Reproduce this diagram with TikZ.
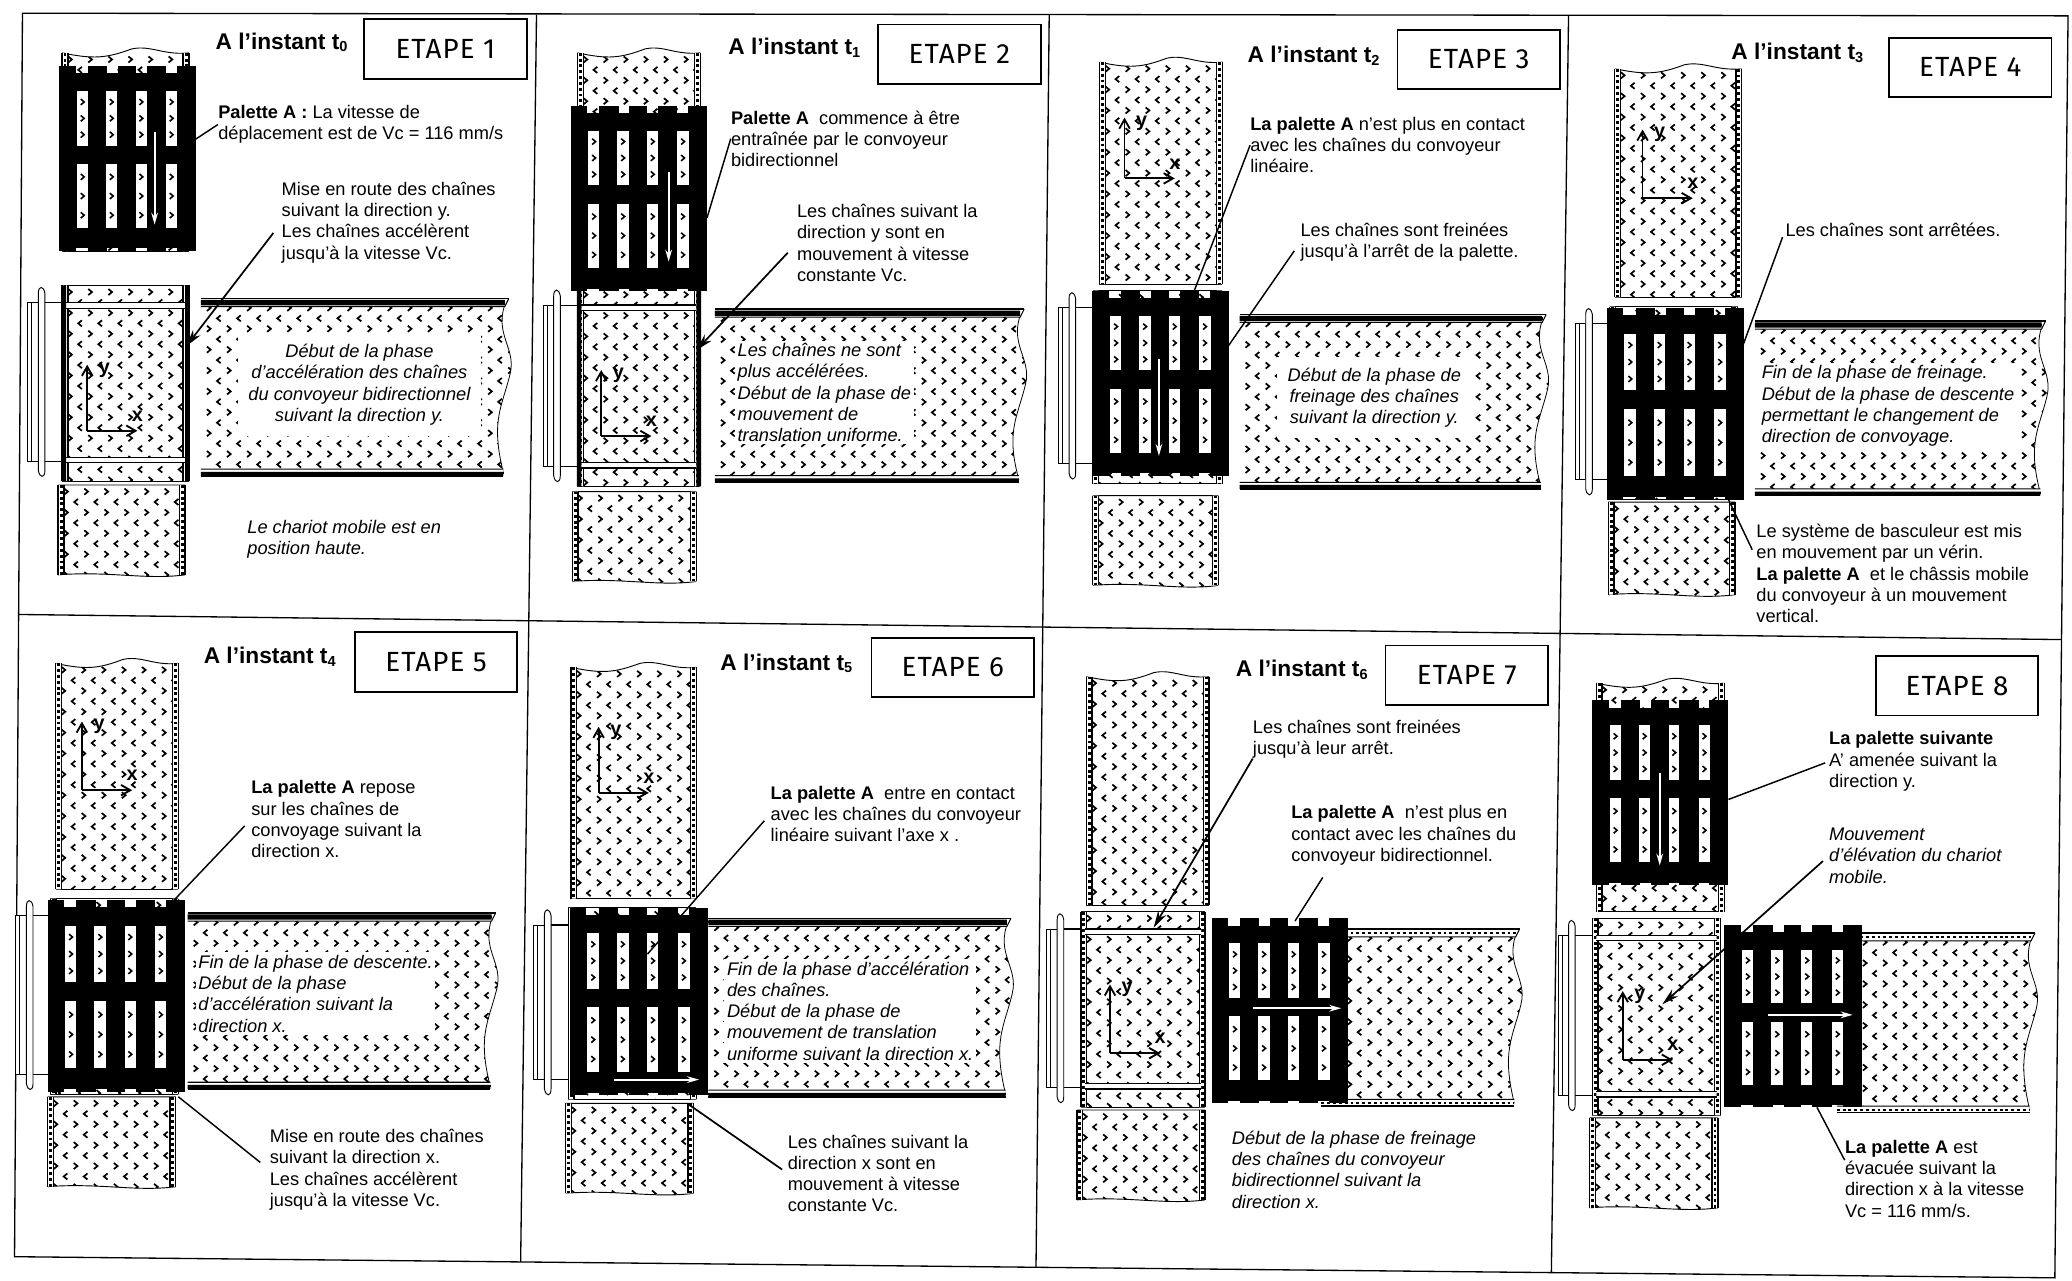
\documentclass[tikz,border=0pt]{standalone}
\usepackage{fontspec}
\setmainfont{Liberation Sans}
\newfontfamily\etapefont[LetterSpace=4]{Fira Sans}
\usetikzlibrary{arrows.meta}
\tikzset{
  body/.style={anchor=north west,yshift=-1.5pt,inner sep=0pt,align=left,font=\fontsize{13.8}{16.1}\selectfont},
  ital/.style={body,font=\fontsize{13.8}{16.1}\selectfont\itshape},
  italbox/.style={ital,fill=white,inner sep=2pt},
  italc/.style={anchor=center,inner sep=8pt,align=center,fill=white,font=\fontsize{13.8}{16.1}\selectfont\itshape},
  titre/.style={anchor=west,inner sep=0pt,font=\fontsize{17.2}{20}\selectfont\bfseries},
  etape/.style={draw,line width=1.4pt,minimum width=123pt,minimum height=45pt,inner sep=0pt,font=\etapefont\fontsize{21}{24}\selectfont},
  leader/.style={line width=1.1pt},
  fleche/.style={line width=1.3pt,-{Stealth[length=13pt,width=7pt]}},
  frame/.style={line width=1pt},
  rail/.style={line width=1pt},
  raildash/.style={line width=2.2pt,dash pattern=on 2.2pt off 2.2pt},
  axe/.style={line width=1.4pt,-{Straight Barb[length=7pt,width=8pt]}},
  axelab/.style={inner sep=0pt,font=\fontsize{15}{15}\selectfont\bfseries},
  whitearrow/.style={white,line width=1.6pt,-{Stealth[length=9pt,width=5pt]}}
}
\newcommand\tsub[1]{t\raisebox{-2pt}{\fontsize{11}{11}\selectfont #1}}
\newcommand\chevs[4]{%
  \pgfmathtruncatemacro\nx{(#3-#1)/15.2+1}%
  \pgfmathtruncatemacro\ny{(#4-#2)/7.9+1}%
  \path[draw=black,line width=1.3pt]
    \foreach \j in {0,...,\ny}{\foreach \i in {0,...,\nx}{
      ({#1+6+15.2*\i+7.6*mod(\j,2)-(1-2*mod(\j,2))*1.4},{#2+5+7.9*\j-2.3})
      -- ++({2.8*(1-2*mod(\j,2))},2.3) -- ++({-2.8*(1-2*mod(\j,2))},2.3)
    }};%
}
\newcommand\upconv[4]{%
  \begin{scope}
    \clip (#1,#2) .. controls ({#1+.25*(#3-#1)},{#2+5}) and ({#1+.35*(#3-#1)},{#2+4}) .. ({#1+.55*(#3-#1)},{#2-3}) .. controls ({#1+.7*(#3-#1)},{#2-6}) and ({#1+.8*(#3-#1)},{#2+2}) .. (#3,#2) -- (#3,#4) -- (#1,#4) -- cycle;
    \chevs{#1}{#2}{#3}{#4}
  \end{scope}
  \draw[line width=.7pt] (#1,#2) .. controls ({#1+.25*(#3-#1)},{#2+5}) and ({#1+.35*(#3-#1)},{#2+4}) .. ({#1+.55*(#3-#1)},{#2-3}) .. controls ({#1+.7*(#3-#1)},{#2-6}) and ({#1+.8*(#3-#1)},{#2+2}) .. (#3,#2);
  \draw[line width=.7pt] (#1,#4) -- (#3,#4);
  \vrails{#1}{#2}{#3}{#4}%
}
\newcommand\vrails[4]{%
  \fill[white] (#1,#2) rectangle ({#1+4.4},#4) (#3,#2) rectangle ({#3-4.4},#4);
  \draw[rail] (#1,#2) -- (#1,#4) ({#1+4.4},#2) -- ({#1+4.4},#4) (#3,#2) -- (#3,#4) ({#3-4.4},#2) -- ({#3-4.4},#4);
  \draw[raildash] ({#1+2.2},#2) -- ({#1+2.2},#4) ({#3-2.2},#2) -- ({#3-2.2},#4);%
}
\newcommand\lowconv[4]{%
  \begin{scope}
    \clip (#1,#2) -- (#3,#2) -- (#3,#4) .. controls ({#3-.3*(#3-#1)},{#4+4}) and ({#3-.6*(#3-#1)},{#4-3}) .. (#1,#4) -- cycle;
    \chevs{#1}{#2}{#3}{#4}
  \end{scope}
  \draw[line width=.7pt] (#1,#2) -- (#3,#2) (#3,#4) .. controls ({#3-.3*(#3-#1)},{#4+4}) and ({#3-.6*(#3-#1)},{#4-3}) .. (#1,#4);
  \vrails{#1}{#2}{#3}{#4}%
}
\newcommand\rconv[4]{%
  \begin{scope}
    \clip (#1,#2) -- ({#3-2},#2) .. controls ({#3-12},{#2+25}) and ({#3+6},{#2+35}) .. ({#3+1},{#2+55}) .. controls ({#3-5},{#2+80}) and ({#3-14},{#2+90}) .. ({#3-4},#4) -- (#1,#4) -- cycle;
    \chevs{#1}{#2}{#3}{#4}
  \end{scope}
  \draw[line width=.6pt] ({#3-2},#2) .. controls ({#3-12},{#2+25}) and ({#3+6},{#2+35}) .. ({#3+1},{#2+55}) .. controls ({#3-5},{#2+80}) and ({#3-14},{#2+90}) .. ({#3-4},#4);
  \fill[white] (#1,{#2-2}) rectangle (#3,{#2+4}) (#1,{#4-3}) rectangle ({#3-4},{#4+2});
  \draw[line width=1.2pt] (#1,{#2-2}) -- (#3,{#2-2}) (#1,{#4+2}) -- ({#3-4},{#4+2});
  \draw[line width=.8pt] (#1,{#2+4}) -- ({#3-3},{#2+4}) -- (#3,{#2-2}) (#1,{#4-3}) -- ({#3-4},{#4-3});
  \draw[raildash,line width=1.6pt] (#1,{#2+1}) -- ({#3-3},{#2+1}) (#1,{#4}) -- ({#3-4},{#4});%
}
\newcommand\blackrail[4]{%
  \fill[black] (#1,{#2-1}) rectangle ({#3-3},{#2+3}) (#1,{#4-1}) rectangle ({#3-4},{#4+2});%
}
\newcommand\chariot[4]{%
  \begin{scope}
    \clip (#1,#2) rectangle (#3,#4);
    \chevs{#1}{#2}{#3}{#4}
  \end{scope}
  \draw[line width=.7pt] (#1,#2) -- (#3,#2) (#1,#4) -- (#3,#4);
  \vrails{#1}{#2}{#3}{#4}%
  \fill[white] ({#1+3},{#2+13}) rectangle ({#3-3},{#2+17}) ({#1+3},{#4-18}) rectangle ({#3-3},{#4-14});
  \draw[line width=1.2pt] ({#1+3},{#2+13}) -- ({#3-3},{#2+13}) ({#1+3},{#4-14}) -- ({#3-3},{#4-14});
  \draw[line width=.6pt] ({#1+3},{#2+17}) -- ({#3-3},{#2+17}) ({#1+3},{#4-18}) -- ({#3-3},{#4-18});
  \draw[line width=.7pt,fill=white] ({#1-26},{#2+13}) rectangle ({#1-18},{#4-15});
  \draw[line width=.5pt] ({#1-23},{#2+13}) -- ({#1-23},{#4-15});
  \draw[line width=.8pt] ({#1-18},{#2+13}) -- (#1,{#2+13}) ({#1-18},{#4-15}) -- (#1,{#4-15});
  \draw[line width=.7pt,fill=white] ({#1-18},{#2+6}) .. controls ({#1-18},#2) and ({#1-14},#2) .. ({#1-13},{#2+6}) -- ({#1-13},{#4-8}) .. controls ({#1-13},{#4-2}) and ({#1-17},{#4-2}) .. ({#1-18},{#4-8}) -- cycle;%
}
\newcommand\blackside[4]{%
  \fill[black] ({#1-.5},#2) rectangle ({#1+3},#4) ({#3-3},#2) rectangle ({#3+.5},#4);%
}
\newcommand\palette[4]{%
  \fill[black] (#1,{#2+5.5}) rectangle ({#1+#3},{#2+#4-2});
  \foreach \a/\b in {0/.12,.21/.35,.43/.56,.64/.78,.86/1}{
    \fill[black] ({#1+\a*#3},#2) rectangle ({#1+\b*#3},{#2+6});
    \fill[black] ({#1+\a*#3},{#2+#4-3}) rectangle ({#1+\b*#3},{#2+#4});
  }
  \foreach \a/\b in {.128/.21,.34/.425,.56/.64,.78/.865}{
    \foreach \c/\d in {.135/.43,.53/.875}{
      \fill[white] ({#1+\a*#3},{#2+\c*#4}) rectangle ({#1+\b*#3},{#2+\d*#4});
      \foreach \k in {.2,.5,.8}{
        \draw[line width=1.2pt] ({#1+(\a+\b)/2*#3-1.3},{#2+(\c+(\d-\c)*\k)*#4-2.2}) -- ++(2.6,2.2) -- ++(-2.6,2.2);
      }
    }
  }%
}
\newcommand\repere[5]{%
  \coordinate (#1o) at (#2,#3);
  \coordinate (#1y) at (#2,{#3-#4});
  \coordinate (#1x) at ({#2+#5},#3);
  \draw[axe] (#1o) -- (#1y);
  \draw[axe] (#1o) -- (#1x);
  \node[axelab] (#1ly) at ({#2+13},{#3-#4+4}) {y};
  \node[axelab] (#1lx) at ({#2+#5},{#3-11}) {x};%
}
\begin{document}
\begin{tikzpicture}[x=1pt,y=-1pt]
\useasboundingbox (0,0) rectangle (1568,969);
\fill[white] (0,0) rectangle (1568,969);
% frame
\coordinate (c1) at (17,10); \coordinate (c2) at (1565,12);
\coordinate (c3) at (1555,967); \coordinate (c4) at (11,951);
\draw[frame] (c1) -- (c2) -- (c3) -- (c4) -- cycle;
\coordinate (h1) at (14,465); \coordinate (h2) at (1560,484);
\draw[frame] (h1) -- (h2);
\coordinate (v1a) at (406,11); \coordinate (v1b) at (394,955);
\coordinate (v2a) at (794,11); \coordinate (v2b) at (784,959);
\coordinate (v3a) at (1187,12); \coordinate (v3b) at (1174,963);
\draw[frame] (v1a) -- (v1b) (v2a) -- (v2b) (v3a) -- (v3b);

% ---- conveyors
\upconv{47}{40}{143}{190}   \chariot{47}{216}{143}{364}   \rconv{152}{228}{385}{358} \blackrail{152}{228}{385}{358} \lowconv{44}{367}{140}{435} \blackside{47}{216}{143}{364}
\upconv{437}{40}{530}{187}  \chariot{437}{218}{530}{368}  \rconv{541}{236}{775}{363} \blackrail{541}{236}{775}{363} \lowconv{433}{372}{527}{440} \blackside{437}{218}{530}{368}
\upconv{832}{47}{925}{215}  \chariot{827}{220}{925}{366}  \rconv{938}{240}{1170}{368} \blackrail{938}{240}{1170}{368} \lowconv{827}{375}{922}{443}
\upconv{1222}{52}{1318}{225} \chariot{1218}{232}{1315}{378} \rconv{1328}{245}{1548}{373} \blackrail{1328}{245}{1548}{373} \lowconv{1217}{380}{1313}{450}
\upconv{42}{502}{135}{673}  \chariot{38}{680}{135}{828}   \rconv{142}{693}{375}{822} \blackrail{142}{693}{375}{822} \lowconv{36}{830}{133}{898}
\upconv{432}{505}{527}{680} \chariot{430}{687}{527}{832}  \rconv{536}{697}{765}{828} \blackrail{536}{697}{765}{828} \lowconv{428}{835}{525}{903}
\upconv{822}{512}{915}{685} \chariot{818}{690}{912}{838}  \rconv{1000}{705}{1150}{835} \lowconv{815}{840}{912}{908}
\upconv{1208}{517}{1305}{690} \chariot{1205}{695}{1302}{844} \rconv{1390}{708}{1540}{840} \lowconv{1203}{846}{1300}{914}

% ---- axes
\repere{a1}{66}{326}{50}{38}
\repere{a2}{455}{330}{50}{38}
\repere{a3}{851}{135}{46}{38}
\repere{a4}{1243}{150}{52}{38}
\repere{a5}{62}{598}{52}{38}
\repere{a6}{453}{600}{50}{38}
\repere{a7}{840}{797}{52}{38}
\repere{a8}{1228}{802}{52}{38}

% ---- palettes
\palette{45}{50}{103}{140}
\palette{432}{80}{103}{140}
\palette{827}{220}{103}{140}
\palette{1216}{233}{104}{145}
\palette{36}{681}{104}{145}
\palette{431}{687}{105}{142}
\palette{917}{695}{103}{140}
\palette{1205}{530}{103}{140}
\palette{1305}{700}{104}{138}

% ---- white arrows on the palettes
\coordinate (w1a) at (117,100);  \coordinate (w1b) at (117,170);
\coordinate (w2a) at (506,130);  \coordinate (w2b) at (506,198);
\coordinate (w3a) at (877,272);  \coordinate (w3b) at (877,345);
\coordinate (w6a) at (465,817);  \coordinate (w6b) at (529,817);
\coordinate (w7a) at (948,763);  \coordinate (w7b) at (1015,763);
\coordinate (w8a) at (1338,768); \coordinate (w8b) at (1402,768);
\coordinate (w9a) at (1256,585); \coordinate (w9b) at (1256,655);
\foreach \n in {1,2,3,6,7,8,9}{\draw[whitearrow] (w\n a) -- (w\n b);}

% ---- titles
\node[titre] (t1) at (163,32) {A l’instant \tsub{0}};
\node[titre] (t2) at (551,36) {A l’instant \tsub{1}};
\node[titre] (t3) at (944,42) {A l’instant \tsub{2}};
\node[titre] (t4) at (1310,40) {A l’instant \tsub{3}};
\node[titre] (t5) at (154,497) {A l’instant \tsub{4}};
\node[titre] (t6) at (545,502) {A l’instant \tsub{5}};
\node[titre] (t7) at (935,507) {A l’instant \tsub{6}};
\node[etape] (e1) at (337,37) {ETAPE 1};
\node[etape] (e2) at (726,41) {ETAPE 2};
\node[etape] (e3) at (1119,45) {ETAPE 3};
\node[etape] (e4) at (1491,51) {ETAPE 4};
\node[etape] (e5) at (330,501) {ETAPE 5};
\node[etape] (e6) at (721,505) {ETAPE 6};
\node[etape] (e7) at (1110,511) {ETAPE 7};
\node[etape] (e8) at (1481,519) {ETAPE 8};

% ---- panel 1
\node[body] (p1a) at (165,78) {\textbf{Palette A :} La vitesse de\\déplacement est de Vc = 116 mm/s};
\node[body] (p1b) at (213,136) {Mise en route des chaînes\\suivant la direction y.\\Les chaînes accélèrent\\jusqu’à la vitesse Vc.};
\node[italc] (p1c) at (272,291) {Début de la phase\\d’accélération des chaînes\\du convoyeur bidirectionnel\\suivant la direction y.};
\node[ital] (p1d) at (187,392) {Le chariot mobile est en\\position haute.};
\coordinate (p1ae) at (147,106); \coordinate (p1be) at (141,262);
\draw[leader] (p1a.west) -- (p1ae);
\draw[fleche,shorten <=10pt] (p1b.west) -- (p1be);
% ---- panel 2
\node[body] (p2a) at (553,82) {\textbf{Palette A}~ commence à être\\entraînée par le convoyeur\\bidirectionnel};
\node[body] (p2b) at (603,153) {Les chaînes suivant la\\direction y sont en\\mouvement à vitesse\\constante Vc.};
\node[italbox] (p2c) at (556,256) {Les chaînes ne sont\\plus accélérées.\\Début de la phase de\\mouvement de\\translation uniforme.};
\coordinate (p2ae) at (535,165); \coordinate (p2be) at (527,265);
\draw[leader] (p2a.west) -- (p2ae);
\draw[fleche,shorten <=10pt] (p2b.west) -- (p2be);
% ---- panel 3
\node[body] (p3a) at (946,87) {\textbf{La palette A} n’est plus en contact\\avec les chaînes du convoyeur\\linéaire.};
\node[body] (p3b) at (984,167) {Les chaînes sont freinées\\jusqu’à l’arrêt de la palette.};
\node[italc] (p3c) at (1040,301) {Début de la phase de\\freinage des chaînes\\suivant la direction y.};
\coordinate (p3ae) at (903,222); \coordinate (p3be) at (928,264);
\draw[leader] (p3a.west) -- (p3ae);
\draw[leader,shorten <=8pt] (p3b.west) -- (p3be);
% ---- panel 4
\node[body] (p4a) at (1351,167) {Les chaînes sont arrêtées.};
\node[italbox] (p4b) at (1331,273) {Fin de la phase de freinage.\\Début de la phase de descente\\permettant le changement de\\direction de convoyage.};
\node[body] (p4c) at (1329,395) {Le système de basculeur est mis\\en mouvement par un vérin.\\\textbf{La palette A}~ et le châssis mobile\\du convoyeur à un mouvement\\vertical.};
\coordinate (p4ae) at (1318,264); \coordinate (p4cs) at (1326,416); \coordinate (p4ce) at (1307,376);
\draw[leader,shorten <=6pt] (p4a.west) -- (p4ae);
\draw[leader] (p4cs) -- (p4ce);
% ---- panel 5
\node[body] (p5a) at (190,589) {\textbf{La palette A} repose\\sur les chaînes de\\convoyage suivant la\\direction x.};
\node[italbox] (p5b) at (148,719) {Fin de la phase de descente.\\Début de la phase\\d’accélération suivant la\\direction x.};
\node[body] (p5c) at (204,853) {Mise en route des chaînes\\suivant la direction x.\\Les chaînes accélèrent\\jusqu’à la vitesse Vc.};
\coordinate (p5ae) at (130,683); \coordinate (p5ce) at (135,830);
\draw[leader,shorten <=7pt] (p5a.west) -- (p5ae);
\draw[leader,shorten <=9pt] (p5c.west) -- (p5ce);
% ---- panel 6
\node[body] (p6a) at (583,593) {\textbf{La palette A}~ entre en contact\\avec les chaînes du convoyeur\\linéaire suivant l’axe x .};
\node[italbox] (p6b) at (548,724) {Fin de la phase d’accélération\\des chaînes.\\Début de la phase de\\mouvement de translation\\uniforme suivant la direction x.};
\node[body] (p6c) at (596,857) {Les chaînes suivant la\\direction x sont en\\mouvement à vitesse\\constante Vc.};
\coordinate (p6ae) at (490,722); \coordinate (p6ce) at (520,835);
\draw[leader,shorten <=7pt] (p6a.west) -- (p6ae);
\draw[leader,line width=1.3pt,shorten <=5pt] (p6c.west) -- (p6ce);
% ---- panel 7
\node[body] (p7a) at (948,543) {Les chaînes sont freinées\\jusqu’à leur arrêt.};
\node[body] (p7b) at (977,608) {\textbf{La palette A}~ n’est plus en\\contact avec les chaînes du\\convoyeur bidirectionnel.};
\node[ital] (p7c) at (932,854) {Début de la phase de freinage\\des chaînes du convoyeur\\bidirectionnel suivant la\\direction x.};
\coordinate (p7ae) at (873,702); \coordinate (p7bs) at (1001,664); \coordinate (p7be) at (980,697);
\draw[fleche] (p7a.south west) -- (p7ae);
\draw[leader] (p7bs) -- (p7be);
% ---- panel 8
\node[body] (p8a) at (1384,552) {\textbf{La palette suivante}\\A’ amenée suivant la\\direction y.};
\node[ital] (p8b) at (1384,625) {Mouvement\\d’élévation du chariot\\mobile.};
\node[body] (p8c) at (1396,861) {\textbf{La palette A} est\\évacuée suivant la\\direction x à la vitesse\\Vc = 116 mm/s.};
\coordinate (p8ae) at (1308,605); \coordinate (p8be) at (1258,760); \coordinate (p8cs) at (1396,878); \coordinate (p8ce) at (1375,838);
\draw[leader,shorten <=3pt] (p8a.west) -- (p8ae);
\draw[fleche,shorten <=6pt] (p8b.west) -- (p8be);
\draw[leader] (p8cs) -- (p8ce);
\end{tikzpicture}
\end{document}
